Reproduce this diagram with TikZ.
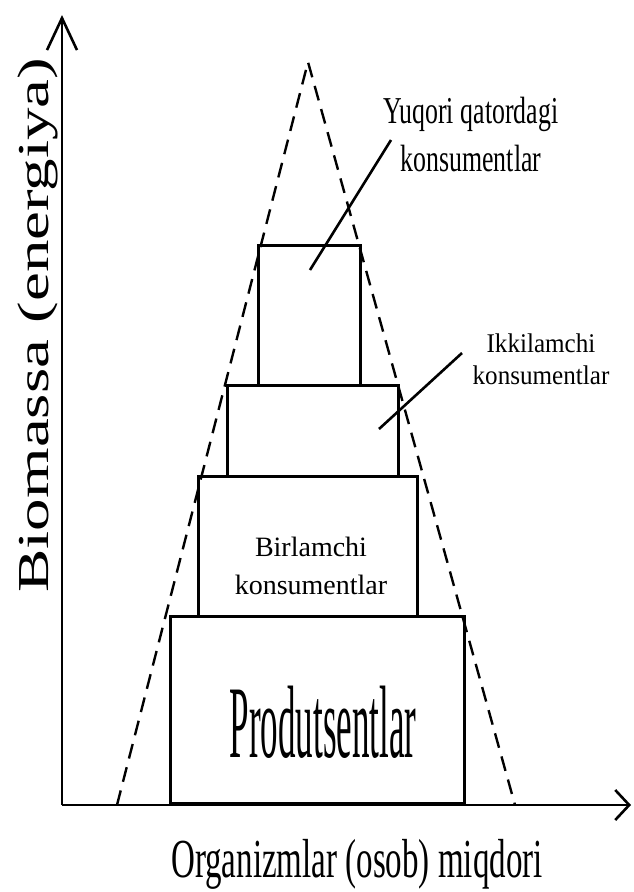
\documentclass[tikz,border=0pt]{standalone}
\usepackage{fontspec}
\setmainfont{Liberation Serif}
\usepackage{graphicx}
\usetikzlibrary{arrows.meta, positioning}
\newcommand{\sqz}[2]{\scalebox{#1}[1]{#2}}

\begin{document}
\begin{tikzpicture}[
    x=1pt, y=-1pt,
    axis/.style={line width=2.6pt},
    tier/.style={draw, line width=3pt, inner sep=0pt, anchor=south},
    bound/.style={line width=2.4pt, dash pattern=on 15pt off 9pt},
    leader/.style={line width=2.6pt},
    lbl/.style={inner sep=0pt, align=center},
]
\useasboundingbox (0,0) rectangle (633,892);

% Axes
\coordinate (orig) at (62,805);
\coordinate (ytip) at (62,15);
\coordinate (xtip) at (631,805);
\draw[axis, -{Straight Barb[length=32pt, width=30pt]}] (orig) -- (ytip);
\draw[axis, -{Straight Barb[length=14pt, width=30pt]}] (orig) -- (xtip);

% Dashed envelope
\coordinate (apex) at (308,62);
\coordinate (baseL) at (117,805);
\coordinate (baseR) at (515,805);
\draw[bound] (baseL) -- (apex) -- (baseR);

% Pyramid tiers
\node[tier, minimum width=294pt, minimum height=187pt] (prod) at (317,805) {};
\node[tier, minimum width=219pt, minimum height=140pt] (birl) at (307.5,618) {};
\node[tier, minimum width=171pt, minimum height=91pt] (ikki) at (312.5,478) {};
\node[tier, minimum width=102pt, minimum height=140pt] (yuqori) at (309,387) {};

% Labels
\node[lbl, font=\fontsize{103}{110}\selectfont] (prodlbl) at (323,722) {\sqz{0.34}{Produtsentlar}};
\node[lbl, font=\fontsize{28}{38}\selectfont] (birllbl) at (311,566) {\sqz{1.0}{Birlamchi}\\\sqz{1.0}{konsumentlar}};
\node[lbl, font=\fontsize{27}{32}\selectfont] (ikkilbl) at (541,359) {\sqz{0.93}{Ikkilamchi}\\\sqz{0.93}{konsumentlar}};
\node[lbl, font=\fontsize{38}{48}\selectfont] (yuqlbl) at (471,134) {\sqz{0.68}{Yuqori qatordagi}\\\sqz{0.68}{konsumentlar}};
\node[lbl, font=\fontsize{55}{60}\selectfont] (xlbl) at (357,864) {\sqz{0.6}{Organizmlar (osob) miqdori}};
\node[lbl, font=\fontsize{65}{70}\selectfont] (ylbl) at (38,325) {\sqz{0.68}{\rotatebox{90}{Biomassa (energiya)}}};

% Leader lines
\coordinate (yuqend) at (391,140);
\coordinate (yuqin) at (310,270);
\draw[leader] (yuqend) -- (yuqin);
\coordinate (ikkiend) at (462,353);
\coordinate (ikkiin) at (379,429);
\draw[leader] (ikkiend) -- (ikkiin);

\end{tikzpicture}
\end{document}
